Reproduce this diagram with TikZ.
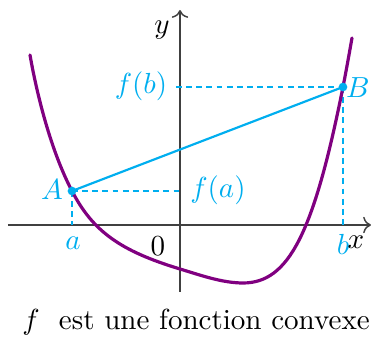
\documentclass[tikz,border=0pt]{standalone}
\usetikzlibrary{arrows.meta}
\definecolor{ptblue}{RGB}{0,174,239}
\definecolor{curvepurple}{RGB}{128,0,128}
\begin{document}
\begin{tikzpicture}[x=0.0121cm,y=-0.0121cm,
  axisline/.style={black!75,line width=0.5pt},
  guide/.style={ptblue,line width=0.4pt,dash pattern=on 2pt off 1.5pt},
  lab/.style={ptblue,inner sep=0pt},
  blk/.style={black,inner sep=0pt}]
\useasboundingbox (0,0) rectangle (372,337);
% axes
\coordinate (xl) at (8,225);
\coordinate (xr) at (371,225);
\coordinate (yb) at (180,292);
\coordinate (yt) at (180,10);
\draw[axisline,->] (xl) -- (xr);
\draw[axisline,->] (yb) -- (yt);
% points
\coordinate (A) at (72,191);
\coordinate (B) at (343,87);
\coordinate (Ax) at (72,225);
\coordinate (Bx) at (343,225);
\coordinate (Ay) at (181,191);
\coordinate (By) at (176,87);
% guides
\draw[guide] (A) -- (Ay);
\draw[guide] (By) -- (B);
\draw[guide] (A) -- (Ax);
\draw[guide] (B) -- (Bx);
% curve
\coordinate (c0) at (30,55);
\coordinate (c2) at (180,269);
\coordinate (c3) at (243,283);
\coordinate (c5) at (352,38);
\draw[curvepurple,line width=1.1pt,line cap=round]
 (c0) .. controls (37,95) and (51,151) .. (A)
      .. controls (92.7,231) and (119.8,250.8) .. (c2)
      .. controls (200,275) and (222,283) .. (c3)
      .. controls (288.6,283) and (313.6,234) .. (B)
      .. controls (346.3,70.3) and (349,55) .. (c5);
% chord
\draw[ptblue,line width=0.75pt] (A) -- (B);
\fill[ptblue] (A) circle (1.5pt);
\fill[ptblue] (B) circle (1.5pt);
% labels
\node[lab] (lA) at (52,190) {$A$};
\node[lab] (lB) at (358,88) {$B$};
\node[lab] (la) at (73,243) {$a$};
\node[lab] (lb) at (343,244) {$b$};
\node[lab] (lfa) at (218,190) {$f(a)$};
\node[lab] (lfb) at (141,86) {$f(b)$};
\node[blk] (ly) at (162,30) {$y$};
\node[blk] (lx) at (356,242) {$x$};
\node[blk] (l0) at (158,246) {$0$};
\node[blk] (cap) at (196,322) {$f$\ \ est une fonction convexe};
\end{tikzpicture}
\end{document}
